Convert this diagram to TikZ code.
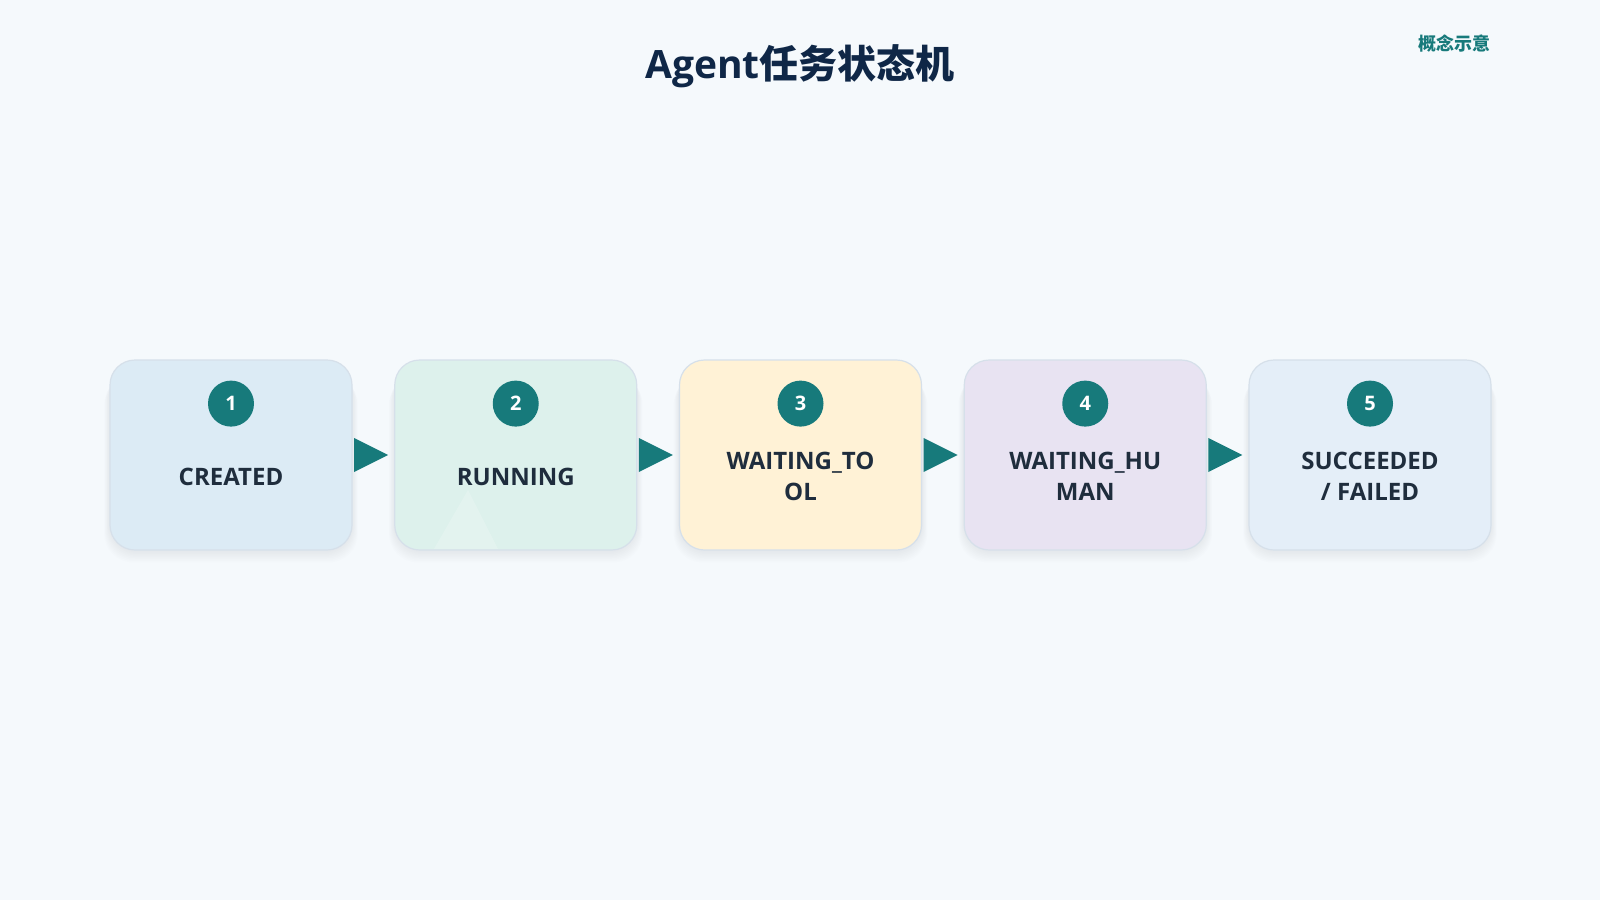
\documentclass[tikz,border=0pt]{standalone}
\usepackage{fontspec}
\setmainfont{Open Sans}
\newfontfamily\cjk{Noto Sans CJK SC}
\usetikzlibrary{positioning,calc}
\definecolor{bgcol}{HTML}{F5F9FC}
\definecolor{stateteal}{HTML}{177A7B}
\definecolor{titlecol}{HTML}{0F2747}
\definecolor{labelcol}{HTML}{1F2D3D}
\definecolor{boxline}{HTML}{D6E0EA}
\definecolor{shadowcol}{HTML}{8A9BB0}
\definecolor{fillA}{HTML}{DCEBF5}
\definecolor{fillB}{HTML}{DDF1EC}
\definecolor{fillC}{HTML}{FFF2D6}
\definecolor{fillD}{HTML}{E8E3F2}
\definecolor{fillE}{HTML}{E4EEF8}
\begin{document}
\begin{tikzpicture}[x=1pt,y=-1pt,line join=round,line cap=round,
  statebox/.style={draw=boxline,line width=1.2pt,rounded corners=25pt,minimum width=242pt,minimum height=190pt,inner sep=0pt},
  numdot/.style={circle,fill=stateteal,minimum size=46pt,inner sep=0pt,text=white,font=\fontsize{20}{20}\selectfont\bfseries},
  statelbl/.style={align=center,text=labelcol,font=\fontsize{24}{31}\selectfont\bfseries}]
\fill[bgcol] (0,0) rectangle (1600,900);
\useasboundingbox (0,0) rectangle (1600,900);
\node[text=titlecol,font=\fontsize{39}{39}\selectfont\bfseries] (title) at (800,66) {Agent{\cjk\bfseries 任务状态机}};
\node[text=stateteal,font=\fontsize{18}{18}\selectfont\bfseries] (tag) at (1454,44) {\cjk\bfseries 概念示意};
\foreach \i/\name/\col in {1/CREATED/fillA,2/RUNNING/fillB,3/{WAITING\_TO\\OL}/fillC,4/{WAITING\_HU\\MAN}/fillD,5/{SUCCEEDED\\/ FAILED}/fillE}{
  \pgfmathsetmacro\cx{231+284.75*(\i-1)}
  \foreach \s in {1,...,8}
    \fill[shadowcol,opacity=0.016,rounded corners=28pt] (\cx-121-\s*0.7,368+\s) rectangle (\cx+121+\s*0.7,551+\s*1.4);
  \node[statebox,fill=\col] (b\i) at (\cx,455) {};
  \node[numdot,below=21pt of b\i.north] (n\i) {\i};
  \node[statelbl] (t\i) at (b\i.center) [yshift=-21.5pt] {\name};
}
\fill[white,opacity=0.18] (468,490) -- (498,549) -- (434,549) -- cycle;
\foreach \i in {1,...,4}
  \fill[stateteal] ($(b\i.east)+(1.5,-17)$) -- ($(b\i.east)+(35.5,0)$) -- ($(b\i.east)+(1.5,17)$) -- cycle;
\end{tikzpicture}
\end{document}
